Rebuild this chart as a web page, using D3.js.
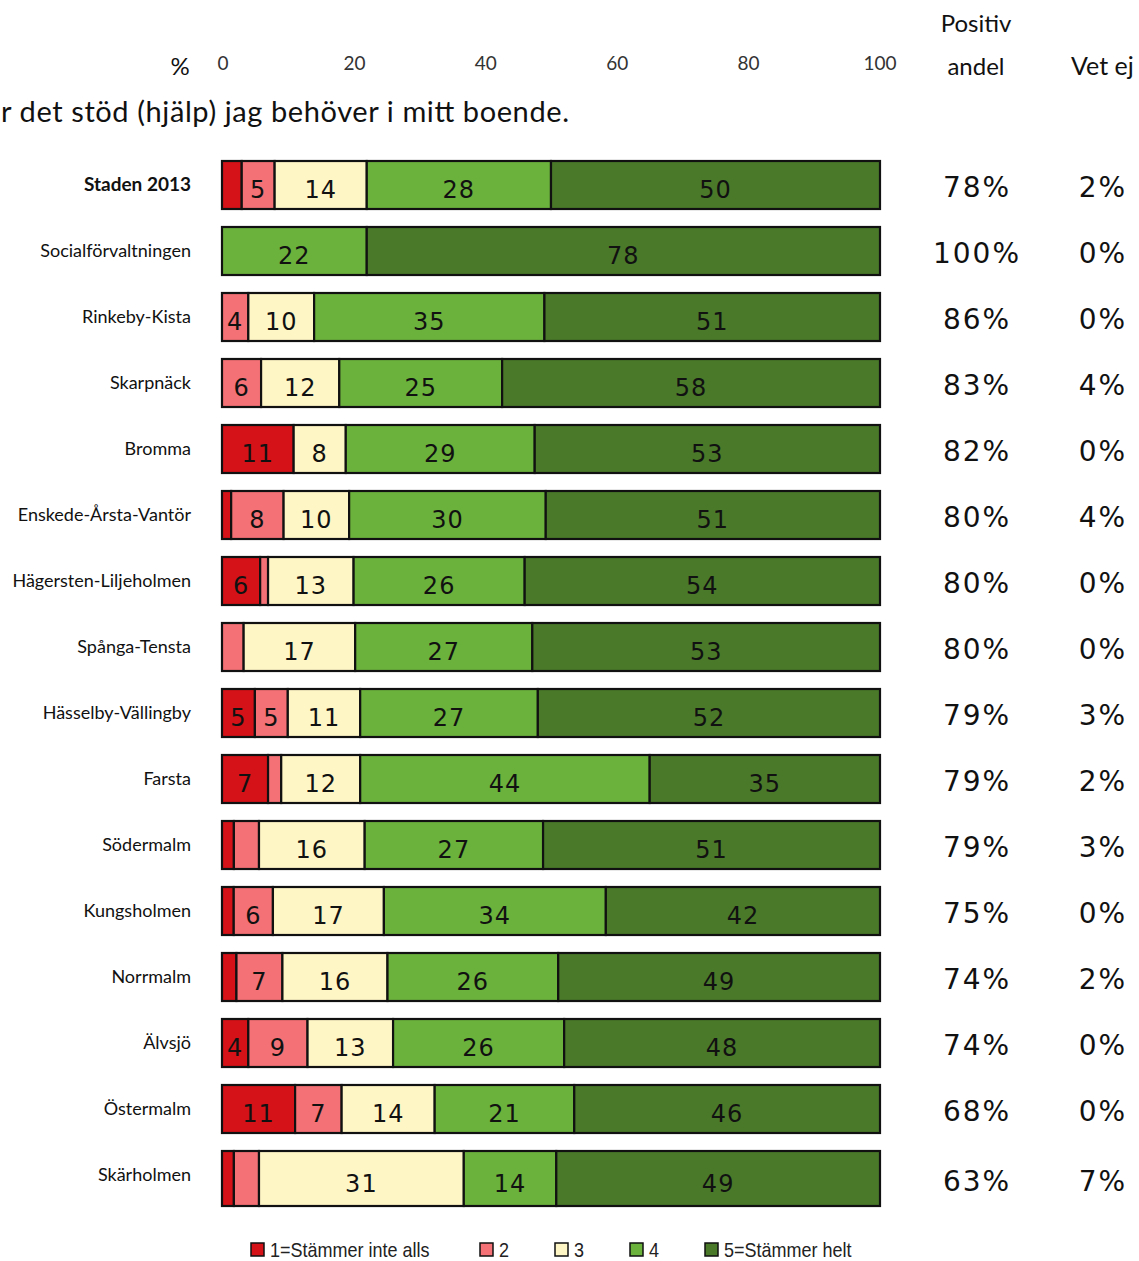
<!DOCTYPE html>
<html><head><meta charset="utf-8">
<script src="https://cdn.jsdelivr.net/npm/d3@7"></script>
<style>body{margin:0;background:#fff;}svg{display:block;}</style>
</head><body>
<svg id="c" width="1139" height="1261"></svg>
<script>
const categories = ["Staden 2013","Socialförvaltningen","Rinkeby-Kista","Skarpnäck","Bromma","Enskede-Årsta-Vantör","Hägersten-Liljeholmen","Spånga-Tensta","Hässelby-Vällingby","Farsta","Södermalm","Kungsholmen","Norrmalm","Älvsjö","Östermalm","Skärholmen"];
const s1 = [3,0,0,0,11,1.4,5.8,0,5,7,1.8,1.8,2.2,4,11,1.8];
const s2 = [5,0,4,6,0,8,1.2,3.3,5,2,3.8,6,7,9,7,3.8];
const s3 = [14,0,10,12,8,10,13,17,11,12,16,17,16,13,14,31];
const s4 = [28,22,35,25,29,30,26,27,27,44,27,34,26,26,21,14];
const s5 = [50,78,51,58,53,51,54,53,52,35,51,42,49,48,46,49];
const positive = ["78%","100%","86%","83%","82%","80%","80%","80%","79%","79%","79%","75%","74%","74%","68%","63%"];
const vetEj = ["2%","0%","0%","4%","0%","4%","0%","0%","3%","2%","3%","0%","2%","0%","0%","7%"];
const seriesNames = ["1=Stämmer inte alls","2","3","4","5=Stämmer helt"];
const colors = ["#D41218","#F47176","#FFF6C6","#6BB23C","#4A792A"];
const ticks = [0,20,40,60,80,100];
const titleText = "r det stöd (hjälp) jag behöver i mitt boende.";

const svg = d3.select("#c");
const font = "Lato, 'Open Sans', sans-serif";
const numFont = "'DejaVu Sans', Verdana, sans-serif";
const x = d3.scaleLinear().domain([0,1]).range([222,880]);
const y = d3.scaleBand().domain(categories).range([152,1208]).paddingInner(18/66).paddingOuter(9/66);

const keys = [0,1,2,3,4];
const stackData = categories.map((c,i)=>{const v=[s1[i],s2[i],s3[i],s4[i],s5[i]]; const o={cat:c}; keys.forEach(k=>o[k]=v[k]); return o;});
const stack = d3.stack().keys(keys).offset(d3.stackOffsetExpand)(stackData);

// header ticks
const xt = d3.scaleLinear().domain([0,100]).range([223,880]);
svg.append("g").selectAll("text").data(ticks).join("text")
  .attr("x",d=>xt(d)).attr("y",70).attr("text-anchor","middle")
  .attr("font-family",font).attr("font-size",19).attr("fill","#333").text(d=>d);
svg.append("text").attr("x",180).attr("y",75).attr("text-anchor","middle")
  .attr("font-family",font).attr("font-size",24).attr("fill","#111").text("%");
svg.append("text").attr("x",1).attr("y",122).attr("text-anchor","start")
  .attr("textLength",568).attr("lengthAdjust","spacing")
  .attr("font-family",font).attr("font-size",29).attr("fill","#111").text(titleText);
svg.append("text").attr("x",976).attr("y",32).attr("text-anchor","middle")
  .attr("font-family",font).attr("font-size",24).attr("fill","#111").text("Positiv");
svg.append("text").attr("x",976).attr("y",75).attr("text-anchor","middle")
  .attr("font-family",font).attr("font-size",24).attr("fill","#111").text("andel");
svg.append("text").attr("x",1071).attr("y",75).attr("text-anchor","start")
  .attr("font-family",font).attr("font-size",25).attr("fill","#111").text("Vet ej");

const lastCat = categories[categories.length-1];
const bh = c => y.bandwidth() + (c===lastCat ? 7 : 0);

// bars
const layers = svg.append("g").selectAll("g").data(stack).join("g").attr("fill",(d,i)=>colors[i]);
layers.selectAll("rect").data((d,i)=>d.map(p=>Object.assign(p,{v:p.data[i]})).filter(p=>p.v>0)).join("rect")
  .attr("x",d=>x(d[0])).attr("width",d=>x(d[1])-x(d[0]))
  .attr("y",d=>y(d.data.cat)).attr("height",d=>bh(d.data.cat))
  .attr("stroke","#111").attr("stroke-width",2.2);

// value labels
layers.selectAll("text").data((d,i)=>d.filter(p=>p.data[i]>=4)).join("text")
  .attr("x",d=>(x(d[0])+x(d[1]))/2).attr("y",d=>y(d.data.cat)+bh(d.data.cat)/2+13)
  .attr("text-anchor","middle").attr("font-family",numFont).attr("font-size",24)
  .attr("letter-spacing",1).attr("fill","#111")
  .text(d=>Math.round(d.v));

// category labels
svg.append("g").selectAll("text").data(categories).join("text")
  .attr("x",191).attr("y",c=>y(c)+y.bandwidth()/2+6).attr("text-anchor","end")
  .attr("font-family",font).attr("font-size",(c,i)=>i===0?19:18).attr("fill","#111")
  .attr("font-weight",(c,i)=>i===0?"bold":"normal").text(c=>c);

// right columns
svg.append("g").selectAll("text").data(positive).join("text")
  .attr("x",977).attr("y",(d,i)=>y(categories[i])+bh(categories[i])/2+12).attr("text-anchor","middle")
  .attr("font-family",numFont).attr("font-size",28).attr("letter-spacing",2).attr("fill","#111").text(d=>d);
svg.append("g").selectAll("text").data(vetEj).join("text")
  .attr("x",1103).attr("y",(d,i)=>y(categories[i])+bh(categories[i])/2+12).attr("text-anchor","middle")
  .attr("font-family",numFont).attr("font-size",28).attr("letter-spacing",2).attr("fill","#111").text(d=>d);

// legend
const legX = [251,480,555,630,705];
const lg = svg.append("g").selectAll("g").data(seriesNames).join("g")
  .attr("transform",(d,i)=>`translate(${legX[i]},1243)`);
lg.append("rect").attr("width",13).attr("height",13).attr("fill",(d,i)=>colors[i])
  .attr("stroke","#111").attr("stroke-width",1.5);
lg.append("text").attr("transform","translate(19,14) scale(0.9,1)")
  .attr("font-family","'Liberation Sans', Arial, sans-serif").attr("font-size",20).attr("fill","#222")
  .text(d=>d);
</script>
</body></html>
